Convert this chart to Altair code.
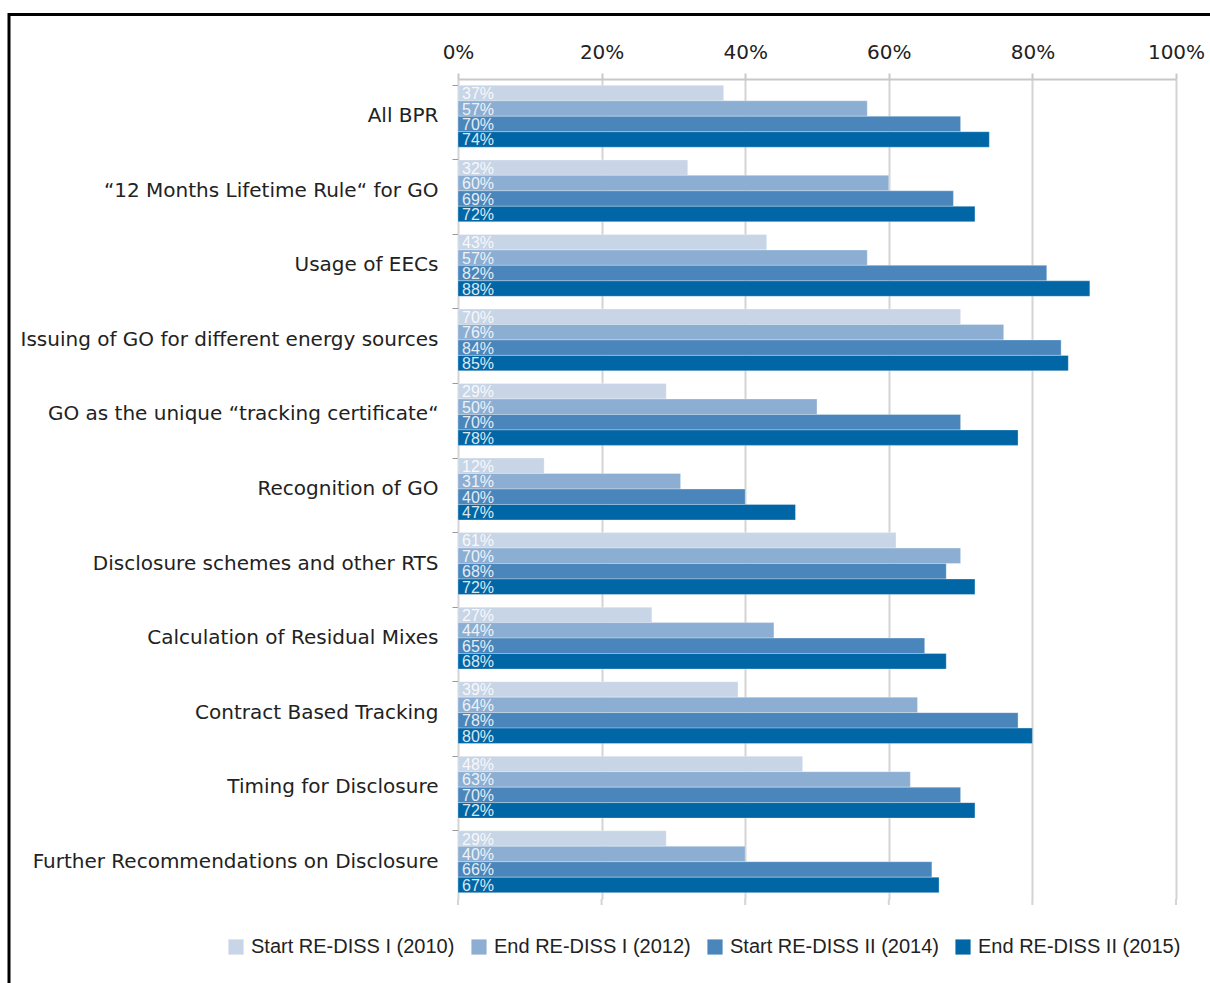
import altair as alt
import pandas as pd

categories = [
    "All BPR",
    "\u201c12 Months Lifetime Rule\u201c for GO",
    "Usage of EECs",
    "Issuing of GO for different energy sources",
    "GO as the unique \u201ctracking certificate\u201c",
    "Recognition of GO",
    "Disclosure schemes and other RTS",
    "Calculation of Residual Mixes",
    "Contract Based Tracking",
    "Timing for Disclosure",
    "Further Recommendations on Disclosure",
]
series = [
    "Start RE-DISS I (2010)",
    "End RE-DISS I (2012)",
    "Start RE-DISS II (2014)",
    "End RE-DISS II (2015)",
]
start_2010 = [37, 32, 43, 70, 29, 12, 61, 27, 39, 48, 29]
end_2012 = [57, 60, 57, 76, 50, 31, 70, 44, 64, 63, 40]
start_2014 = [70, 69, 82, 84, 70, 40, 68, 65, 78, 70, 66]
end_2015 = [74, 72, 88, 85, 78, 47, 72, 68, 80, 72, 67]
colors = ["#c8d5e7", "#8caed3", "#4a86bb", "#0066a6"]

rows = []
for s_idx, (name, vals) in enumerate(zip(series, [start_2010, end_2012, start_2014, end_2015])):
    for c, v in zip(categories, vals):
        rows.append({"category": c, "series": name, "order": s_idx, "value": v / 100.0,
                     "label": f"{v}%"})
df = pd.DataFrame(rows)

W, H = 718, 820
FONT = "Liberation Sans"
WIDE = "DejaVu Sans"

y_enc = alt.Y("category:N", sort=categories,
              scale=alt.Scale(paddingInner=0.17, paddingOuter=0.085),
              axis=alt.Axis(title=None, domain=False, ticks=True, tickSize=6,
                            tickColor="#999999", bandPosition=0,
                            labelFont=WIDE, labelFontSize=20, labelColor="#222222",
                            labelPadding=14, labelLimit=500, grid=False))
yoff = alt.YOffset("series:N", sort=series)

bars = alt.Chart(df).mark_bar(stroke="white", strokeWidth=0.6, strokeOpacity=0.5).encode(
    x=alt.X("value:Q", scale=alt.Scale(domain=[0, 1], nice=False),
            axis=alt.Axis(orient="top", format=".0%", values=[0, 0.2, 0.4, 0.6, 0.8, 1.0],
                          title=None, labelFont=WIDE, labelFontSize=20, labelColor="#222222",
                          labelPadding=11, labelFlush=False,
                          domainColor="#c8c8c8", domainWidth=2,
                          tickColor="#c8c8c8", tickWidth=2, tickSize=6,
                          gridColor="#d4d4d4", gridWidth=2)),
    y=y_enc,
    yOffset=yoff,
    color=alt.Color("series:N", sort=series,
                    scale=alt.Scale(domain=series, range=colors),
                    legend=alt.Legend(title=None, orient="none", direction="horizontal",
                                      legendX=-232, legendY=858, columns=4,
                                      symbolType="square", symbolSize=230,
                                      symbolStrokeWidth=0, symbolOpacity=1,
                                      labelFont=FONT, labelFontSize=20,
                                      labelColor="#222222", labelLimit=400,
                                      columnPadding=14, labelOffset=5)),
)

labels = alt.Chart(df).mark_text(align="left", baseline="middle", dx=4, dy=1,
                                 font=FONT, fontSize=16, color="white",
                                 opacity=0.85).encode(
    x=alt.datum(0),
    y=alt.Y("category:N", sort=categories),
    yOffset=yoff,
    text="label:N",
)

bottom_ticks = alt.Chart(pd.DataFrame({"v": [0, 0.2, 0.4, 0.6, 0.8, 1.0]})).mark_rule(
    color="#d4d4d4", strokeWidth=2).encode(
    x=alt.X("v:Q"),
    y=alt.value(H),
    y2=alt.value(H + 6),
)

frame_top = alt.Chart(pd.DataFrame({"a": [0]})).mark_rule(color="black", strokeWidth=3).encode(
    x=alt.value(-449), x2=alt.value(800), y=alt.value(-64.5))
frame_left = alt.Chart(pd.DataFrame({"a": [0]})).mark_rule(color="black", strokeWidth=3).encode(
    x=alt.value(-449), y=alt.value(-66), y2=alt.value(960))

chart = alt.layer(bars, labels, bottom_ticks, frame_top, frame_left).properties(
    width=W, height=H,
    autosize=alt.AutoSizeParams(type="none"),
    padding={"left": 458, "top": 79, "right": 34, "bottom": 84},
    background="white",
).configure_view(stroke=None)

chart.save("out.html", embed_options={"renderer": "svg", "actions": False})
